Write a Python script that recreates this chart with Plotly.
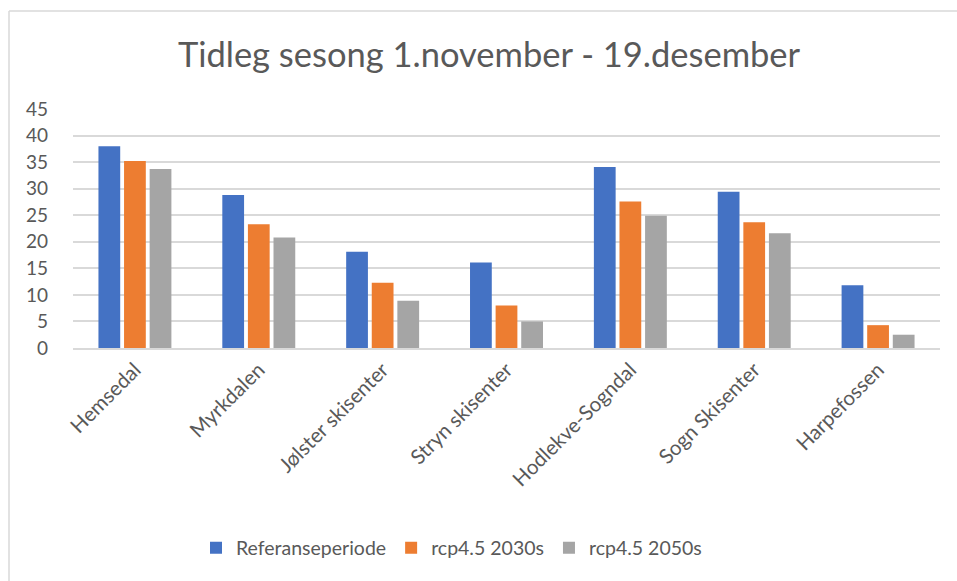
import plotly.graph_objects as go

categories = ["Hemsedal", "Myrkdalen", "Jølster skisenter", "Stryn skisenter",
              "Hodlekve-Sogndal", "Sogn Skisenter", "Harpefossen"]
referanse = [38.0, 28.8, 18.1, 16.1, 34.1, 29.4, 11.8]
rcp45_2030 = [35.2, 23.3, 12.3, 8.0, 27.6, 23.7, 4.3]
rcp45_2050 = [33.7, 20.8, 8.9, 5.0, 24.9, 21.6, 2.5]
series_names = ["Referanseperiode", "rcp4.5 2030s", "rcp4.5 2050s"]
colors = ["#4472C4", "#ED7D31", "#A5A5A5"]
y_ticks = [0, 5, 10, 15, 20, 25, 30, 35, 40, 45]
title_text = "Tidleg sesong 1.november - 19.desember"

FONT = "Lato"
TXT = "#595959"

fig = go.Figure()
for name, vals, col in zip(series_names, [referanse, rcp45_2030, rcp45_2050], colors):
    fig.add_trace(go.Bar(x=categories, y=vals, name=name, marker=dict(color=col, line=dict(width=0))))

W, H = 957, 581
L, R, T, B = 73, 17, 109, 233
pw = W - L - R
ph = H - T - B

def px(x):
    return (x - L) / pw

def py(y):
    return (H - B - y) / ph

border = dict(color="#D9D9D9", width=1.5)
fig.update_layout(
    width=W, height=H,
    margin=dict(l=L, r=R, t=T, b=B, pad=0),
    paper_bgcolor="white", plot_bgcolor="white",
    barmode="group", bargap=0.38, bargroupgap=0.15,
    title=dict(text=title_text, x=489 / W, xanchor="center", y=1 - 55 / H, yanchor="middle",
               font=dict(family=FONT, size=34.5, color=TXT)),
    font=dict(family=FONT, color=TXT),
    legend=dict(orientation="h", x=px(196), xanchor="left", y=py(548), yanchor="middle",
                font=dict(family=FONT, size=19.5, color=TXT), itemwidth=30, traceorder="normal",
                itemclick=False),
    showlegend=True,
    xaxis=dict(showgrid=False, showline=True, linecolor="#D9D9D9", linewidth=1.5,
               ticks="", tickangle=-45, tickfont=dict(family=FONT, size=20.5, color=TXT)),
    yaxis=dict(range=[0, 45], tickvals=y_ticks, showgrid=True, gridcolor="#D9D9D9", gridwidth=1.5,
               zeroline=False, showline=False, ticks="", ticklabelstandoff=24,
               tickfont=dict(family=FONT, size=19, color=TXT)),
    shapes=[
        dict(type="line", xref="paper", yref="paper", x0=px(9), x1=px(W), y0=py(11), y1=py(11),
             line=border, layer="below"),
        dict(type="line", xref="paper", yref="paper", x0=px(9), x1=px(9), y0=py(11), y1=py(H),
             line=border, layer="below"),
    ],
)

fig.write_html(
    "out.html",
    config={"displayModeBar": False},
    post_script="document.body.style.margin='0';document.body.style.overflow='hidden';",
)
